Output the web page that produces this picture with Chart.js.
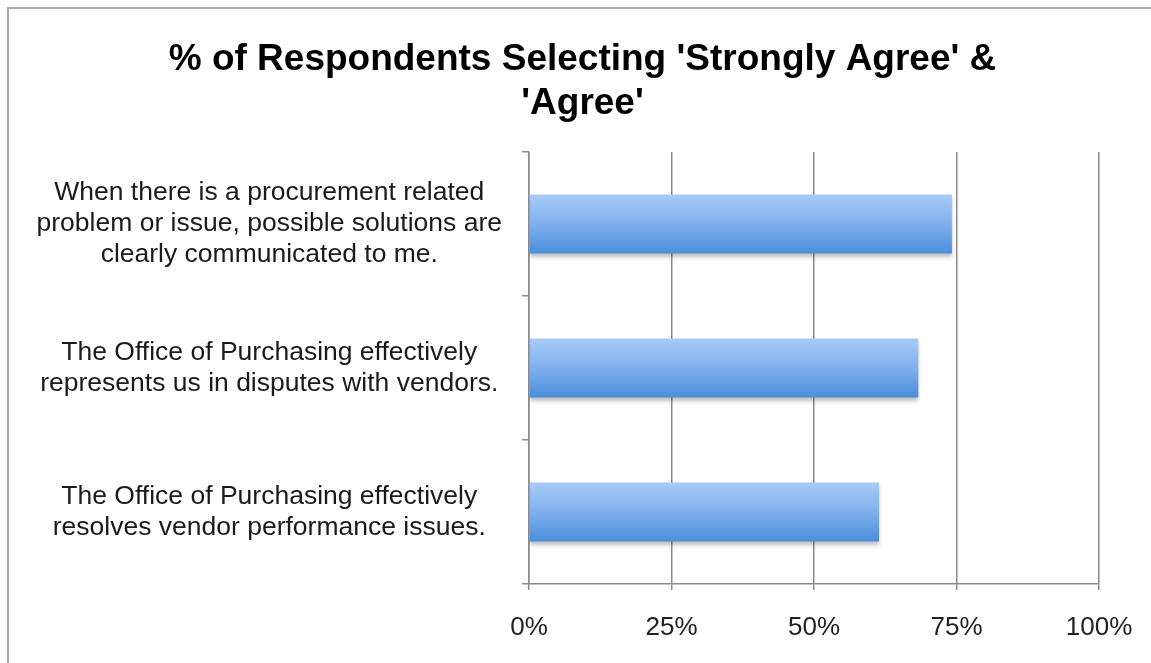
<!DOCTYPE html>
<html>
<head>
<meta charset="utf-8">
<script src="https://cdn.jsdelivr.net/npm/chart.js@4.4.1/dist/chart.umd.min.js"></script>
<style>
  html, body { margin: 0; padding: 0; background: #fff; }
  #wrap { position: relative; width: 1151px; height: 663px; }
  #frame { position: absolute; left: 7px; top: 7px; right: -10px; bottom: -10px;
           border-left: 2px solid #aaa; border-top: 2px solid #aaa; }
  canvas { position: absolute; left: 0; top: 0; }
</style>
</head>
<body>
<div id="wrap">
  <div id="frame"></div>
  <canvas id="surveyChart" width="1151" height="663"></canvas>
</div>
<script>
// statements shown on the y axis (one array entry per line)
var statements = [
  ['When there is a procurement related', 'problem or issue, possible solutions are', 'clearly communicated to me.'],
  ['The Office of Purchasing effectively', 'represents us in disputes with vendors.'],
  ['The Office of Purchasing effectively', 'resolves vendor performance issues.']
];
// % agree / strongly agree
var agreePct = [74.2, 68.3, 61.4];
var xTicks = [0, 25, 50, 75, 100];
var chartTitle = ["% of Respondents Selecting 'Strongly Agree' &", "'Agree'"];

var barPct = 0.41;
var fontFamily = 'Liberation Sans, Arial, sans-serif';

// vertical gradient per bar, built from the y scale
function barGradient(context) {
  var chart = context.chart;
  var yScale = chart.scales.y;
  if (!chart.chartArea || !yScale) return '#6fa5e6';
  var center = yScale.getPixelForValue(context.dataIndex);
  var half = (yScale.height / statements.length) * barPct / 2;
  var g = chart.ctx.createLinearGradient(0, center - half, 0, center + half);
  g.addColorStop(0, '#a8cbf6');
  g.addColorStop(0.5, '#7fb0ec');
  g.addColorStop(1, '#4b8ddb');
  return g;
}

// soft drop shadow under the bars
var barShadow = {
  id: 'barShadow',
  beforeDatasetsDraw: function (chart) {
    var ctx = chart.ctx;
    ctx.save();
    ctx.shadowColor = 'rgba(0,0,0,0.25)';
    ctx.shadowBlur = 4;
    ctx.shadowOffsetY = 3;
  },
  afterDatasetsDraw: function (chart) {
    chart.ctx.restore();
  }
};

var ctx = document.getElementById('surveyChart').getContext('2d');
var surveyChart = new Chart(ctx, {
  type: 'bar',
  data: {
    labels: statements,
    datasets: [{
      label: 'Strongly Agree & Agree',
      data: agreePct,
      backgroundColor: barGradient,
      borderWidth: 0,
      barPercentage: barPct,
      categoryPercentage: 1
    }]
  },
  plugins: [barShadow],
  options: {
    indexAxis: 'y',
    responsive: false,
    animation: false,
    layout: { padding: { left: 14, right: 0, top: 8, bottom: 0 } },
    plugins: {
      legend: { display: false },
      tooltip: { enabled: false },
      title: {
        display: true,
        text: chartTitle,
        color: '#000',
        font: { family: fontFamily, size: 37, weight: 'bold', lineHeight: 1.19 },
        padding: { top: 30, bottom: 26 }
      }
    },
    scales: {
      x: {
        min: 0,
        max: 100,
        afterBuildTicks: function (scale) {
          scale.ticks = xTicks.map(function (v) { return { value: v }; });
        },
        afterFit: function (scale) {
          scale.height = 79;
          scale.paddingLeft = 0;
          scale.paddingRight = 52;
        },
        ticks: {
          color: '#222',
          padding: 22,
          font: { family: fontFamily, size: 26 },
          callback: function (v) { return v + '%'; }
        },
        grid: { color: '#8a8a8a', lineWidth: 1.5, tickLength: 6 },
        border: { color: '#8a8a8a', width: 1.5 }
      },
      y: {
        afterFit: function (scale) {
          scale.width = 529 - 14;
          scale.paddingTop = 0;
          scale.paddingBottom = 0;
        },
        ticks: {
          color: '#1a1a1a',
          padding: 20,
          crossAlign: 'center',
          font: { family: fontFamily, size: 26.5, lineHeight: 1.17 }
        },
        grid: { offset: true, drawOnChartArea: false, color: '#8a8a8a', lineWidth: 1.5, tickLength: 7 },
        border: { color: '#8a8a8a', width: 1.5 }
      }
    }
  }
});
</script>
</body>
</html>
